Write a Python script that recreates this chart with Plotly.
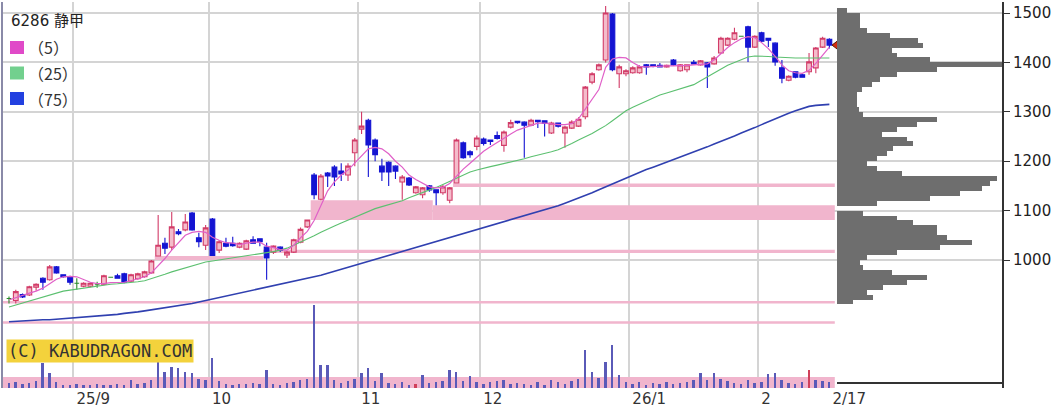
import plotly.graph_objects as go

title_text = "6286 静甲"

# daily OHLC, index 0 = 2025-08-18 ... index 121 = 2026-02-17
opens = [922, 918, 930, 929, 945, 963, 960, 986, 970, 966,
         953, 947, 947, 950, 951, 965, 968, 972, 957, 962,
         966, 974, 1008, 1034, 1026, 1057, 1061, 1095, 1045, 1030,
         1083, 1020, 1034, 1034, 1026, 1022, 1041, 1043, 1026, 1016,
         1026, 1010, 1016, 1036, 1067, 1172, 1123, 1176, 1188, 1180,
         1172, 1217, 1265, 1283, 1243, 1190, 1198, 1190, 1158, 1166,
         1136, 1132, 1150, 1142, 1136, 1121, 1156, 1237, 1219, 1230,
         1245, 1243, 1252, 1232, 1269, 1281, 1279, 1273, 1283, 1282,
         1257, 1277, 1257, 1267, 1271, 1290, 1360, 1385, 1405, 1498,
         1377, 1377, 1379, 1379, 1395, 1395, 1394, 1391, 1405, 1383,
         1385, 1400, 1395, 1399, 1397, 1419, 1435, 1447, 1453, 1472,
         1431, 1460, 1449, 1439, 1389, 1364, 1381, 1375, 1381, 1389,
         1431, 1447]
highs = [926, 940, 932, 948, 953, 965, 990, 988, 971, 968,
         963, 955, 955, 956, 970, 966, 972, 974, 972, 974,
         978, 1000, 1091, 1045, 1097, 1063, 1093, 1097, 1055, 1071,
         1085, 1040, 1045, 1047, 1036, 1041, 1048, 1044, 1035, 1030,
         1028, 1018, 1043, 1066, 1081, 1176, 1174, 1178, 1192, 1196,
         1196, 1247, 1300, 1286, 1246, 1205, 1200, 1192, 1172, 1168,
         1150, 1148, 1152, 1143, 1152, 1148, 1246, 1240, 1222, 1252,
         1248, 1244, 1260, 1262, 1284, 1282, 1281, 1286, 1284, 1283,
         1280, 1278, 1272, 1283, 1289, 1352, 1380, 1398, 1514, 1500,
         1395, 1386, 1392, 1394, 1397, 1396, 1399, 1396, 1407, 1397,
         1396, 1405, 1405, 1401, 1413, 1452, 1451, 1470, 1454, 1474,
         1455, 1462, 1450, 1441, 1405, 1374, 1382, 1377, 1419, 1431,
         1452, 1449]
lows = [912, 912, 923, 927, 938, 940, 958, 972, 964, 950,
        940, 945, 945, 944, 949, 964, 962, 953, 955, 960,
        964, 972, 1007, 1012, 1020, 1050, 1058, 1059, 1026, 1020,
        1008, 1014, 1026, 1027, 1024, 1020, 1033, 1028, 960, 1012,
        1016, 1004, 1014, 1034, 1065, 1123, 1121, 1148, 1150, 1160,
        1160, 1190, 1255, 1168, 1200, 1160, 1150, 1164, 1122, 1150,
        1134, 1125, 1138, 1111, 1132, 1115, 1155, 1205, 1207, 1222,
        1232, 1233, 1244, 1219, 1266, 1276, 1207, 1271, 1267, 1250,
        1255, 1268, 1227, 1265, 1269, 1285, 1356, 1383, 1400, 1382,
        1348, 1372, 1377, 1377, 1375, 1390, 1390, 1389, 1393, 1381,
        1380, 1396, 1393, 1348, 1395, 1417, 1433, 1445, 1452, 1401,
        1429, 1441, 1431, 1393, 1358, 1362, 1368, 1369, 1375, 1378,
        1429, 1428]
closes = [922, 936, 925, 946, 951, 955, 986, 974, 966, 955,
          953, 953, 953, 950, 968, 965, 963, 955, 970, 972,
          976, 998, 1030, 1024, 1067, 1053, 1077, 1061, 1037, 1065,
          1009, 1037, 1028, 1029, 1034, 1039, 1034, 1037, 1004, 1028,
          1020, 1016, 1041, 1062, 1081, 1132, 1170, 1170, 1168, 1174,
          1190, 1243, 1271, 1233, 1213, 1178, 1178, 1180, 1168, 1152,
          1148, 1146, 1142, 1136, 1148, 1146, 1243, 1207, 1213, 1247,
          1236, 1240, 1246, 1259, 1278, 1278, 1273, 1283, 1280, 1277,
          1277, 1271, 1269, 1279, 1285, 1350, 1377, 1395, 1500, 1385,
          1391, 1383, 1389, 1391, 1391, 1392, 1391, 1394, 1395, 1395,
          1395, 1397, 1403, 1391, 1409, 1449, 1449, 1460, 1453, 1431,
          1453, 1443, 1445, 1401, 1368, 1372, 1370, 1370, 1401, 1429,
          1449, 1435]

volumes = [5, 6, 4, 5, 7, 25, 15, 6, 3, 3,
           4, 3, 3, 4, 3, 3, 4, 3, 8, 4,
           5, 8, 28, 16, 21, 20, 16, 15, 9, 8,
           30, 7, 4, 3, 4, 4, 5, 4, 18, 4,
           3, 5, 6, 8, 9, 83, 23, 23, 8, 5,
           7, 9, 15, 20, 7, 15, 5, 4, 6, 3,
           4, 13, 5, 6, 7, 18, 16, 7, 12, 6,
           4, 6, 7, 8, 4, 5, 4, 3, 6, 3,
           8, 6, 4, 7, 9, 38, 16, 10, 26, 43,
           13, 6, 4, 6, 3, 5, 4, 6, 4, 5,
           6, 8, 15, 8, 15, 9, 7, 5, 4, 8,
           5, 6, 14, 15, 8, 5, 4, 6, 18, 8,
           7, 6]
vol_red_days = [60, 118]

ma5 = [919, 924, 928, 933, 937, 943, 952, 961, 966, 967,
       966, 960, 955, 952, 952, 954, 955, 955, 958, 962,
       966, 974, 988, 1003, 1020, 1036, 1050, 1056, 1058, 1056,
       1046, 1040, 1035, 1034, 1031, 1034, 1036, 1036, 1028, 1025,
       1021, 1020, 1030, 1045, 1058, 1080, 1110, 1140, 1158, 1172,
       1182, 1196, 1212, 1225, 1228, 1225, 1215, 1200, 1188, 1172,
       1163, 1155, 1148, 1146, 1147, 1155, 1170, 1184, 1196, 1208,
       1220, 1229, 1238, 1246, 1255, 1263, 1268, 1273, 1277, 1277,
       1275, 1274, 1274, 1276, 1286, 1305, 1325, 1345, 1390, 1407,
       1410, 1409, 1400, 1392, 1391, 1392, 1393, 1393, 1393, 1393,
       1394, 1395, 1396, 1397, 1405, 1418, 1430, 1440, 1448, 1452,
       1450, 1440, 1428, 1412, 1395, 1383, 1379, 1378, 1384, 1398,
       1415, 1431]
ma25 = [905, 909, 914, 918, 922, 926, 930, 934, 937, 939,
        941, 943, 946, 948, 950, 951, 952, 953, 954, 956,
        958, 962, 966, 971, 976, 980, 985, 989, 993, 996,
        998, 1000, 1002, 1004, 1006, 1009, 1011, 1013, 1014, 1017,
        1020, 1024, 1030, 1036, 1042, 1049, 1056, 1063, 1069, 1075,
        1081, 1087, 1093, 1099, 1104, 1108, 1112, 1116, 1120, 1126,
        1131, 1136, 1141, 1147, 1153, 1159, 1165, 1172, 1178, 1182,
        1186, 1189, 1192, 1195, 1198, 1202, 1205, 1209, 1212, 1216,
        1219, 1223, 1229, 1236, 1243, 1249, 1256, 1264, 1272, 1282,
        1292, 1302, 1309, 1315, 1322, 1328, 1334, 1338, 1342, 1346,
        1350, 1355, 1363, 1371, 1379, 1387, 1394, 1400, 1406, 1411,
        1413, 1413, 1412, 1411, 1410, 1410, 1409, 1409, 1409, 1409,
        1409, 1409]
ma75 = [875, 876, 876, 877, 878, 879, 879, 880, 881, 882,
        883, 884, 886, 887, 888, 889, 890, 892, 893, 895,
        897, 899, 901, 903, 906, 908, 910, 912, 915, 918,
        921, 924, 927, 930, 933, 936, 939, 942, 945, 948,
        951, 954, 957, 960, 963, 965, 969, 973, 977, 981,
        985, 989, 993, 997, 1001, 1005, 1009, 1013, 1017, 1021,
        1025, 1029, 1033, 1037, 1041, 1045, 1049, 1053, 1057, 1061,
        1065, 1069, 1073, 1077, 1081, 1085, 1089, 1093, 1098, 1102,
        1106, 1110, 1115, 1120, 1125, 1130, 1136, 1142, 1148, 1154,
        1160, 1166, 1172, 1178, 1183, 1188, 1193, 1199, 1204, 1209,
        1214, 1219, 1224, 1229, 1235, 1240, 1246, 1251, 1257, 1262,
        1268, 1274, 1280, 1285, 1291, 1297, 1302, 1307, 1311, 1313,
        1314, 1315]

# price-by-volume profile (10-yen bins)
profile_price = [915, 925, 935, 945, 955, 965, 975, 985, 995, 1005,
                 1015, 1025, 1035, 1045, 1055, 1065, 1075, 1085, 1095, 1105,
                 1115, 1125, 1135, 1145, 1155, 1165, 1175, 1185, 1195, 1205,
                 1215, 1225, 1235, 1245, 1255, 1265, 1275, 1285, 1295, 1305,
                 1315, 1325, 1335, 1345, 1355, 1365, 1375, 1385, 1395, 1405,
                 1415, 1425, 1435, 1445, 1455, 1465, 1475, 1485, 1495, 1505]
profile_volume = [16, 36, 30, 46, 70, 90, 55, 26, 23, 30,
                  60, 103, 135, 110, 100, 100, 76, 60, 26, 0,
                  40, 93, 123, 145, 153, 160, 65, 40, 30, 40,
                  50, 56, 76, 70, 45, 60, 80, 100, 26, 22,
                  20, 20, 20, 25, 35, 43, 60, 100, 166, 93,
                  60, 55, 86, 81, 53, 30, 23, 23, 23, 10]

# open price gaps (windows): low, high, first day, day filled (None = before chart / still open)
gap_lo = [871, 912, 1000, 1014, 1081, 1081, 1148]
gap_hi = [876, 917, 1008, 1021, 1121, 1111, 1155]
gap_from = [None, None, 22, 38, 45, 63, 66]
gap_to = [None, None, 38, None, 63, None, None]

month_start_idx = [10, 30, 52, 70, 92, 111]
month_labels = ["25/9", "10", "11", "12", "26/1", "2"]
last_label = "2/17"

ma_names = ["（5）", "（25）", "（75）"]
ma_colors = ["#e04ac8", "#72d08e", "#2240e0"]

n = len(closes)
idx = list(range(n))

# ---------- layout geometry ----------
W, H = 1052, 407
ml, mr, mt, mb = 2, 50, 2, 19
plot_w = W - ml - mr
plot_h = H - mt - mb
px_day = 6.78
first_px = 9
x_lo = -(first_px - ml) / px_day
x_hi = x_lo + plot_w / px_day
x_end = n - 0.2
ppy = 0.494          # px per yen
p_hi = 1500 + (13 - mt) / ppy
p_lo = p_hi - plot_h / ppy


def px_x(p):
    return (p - ml) / plot_w


def px_y(p):
    return (H - mb - p) / plot_h


fig = go.Figure()

# candles split by direction
up = [i for i in idx if closes[i] > opens[i]]
dn = [i for i in idx if closes[i] < opens[i]]
dj = [i for i in idx if closes[i] == opens[i]]


def sub(arr, ii):
    return [arr[i] for i in ii]


for ii, lc, fc in [(up, "#d23c68", "#f4bccb"), (dn, "#1414d2", "#1414d2"), (dj, "#2a8a2a", "#2a8a2a")]:
    fig.add_trace(go.Candlestick(
        x=ii, open=sub(opens, ii), high=sub(highs, ii), low=sub(lows, ii), close=sub(closes, ii),
        increasing=dict(line=dict(color=lc, width=1.1), fillcolor=fc),
        decreasing=dict(line=dict(color=lc, width=1.1), fillcolor=fc),
        showlegend=False, hoverinfo="skip", xaxis="x", yaxis="y"))

# moving averages
fig.add_trace(go.Scatter(x=idx, y=ma75, mode="lines", line=dict(color="#3040b0", width=1.6),
                         showlegend=False, hoverinfo="skip"))
fig.add_trace(go.Scatter(x=idx, y=ma25, mode="lines", line=dict(color="#5cc070", width=1.1),
                         showlegend=False, hoverinfo="skip"))
fig.add_trace(go.Scatter(x=idx, y=ma5, mode="lines", line=dict(color="#e060c8", width=1.2),
                         showlegend=False, hoverinfo="skip"))

# volume
vcol = ["#d0405a" if i in vol_red_days else "#5a5ab8" for i in idx]
fig.add_trace(go.Bar(x=idx, y=volumes, width=0.28, marker=dict(color=vcol, line=dict(width=0)),
                     xaxis="x", yaxis="y3", showlegend=False, hoverinfo="skip"))

# price-by-volume profile
fig.add_trace(go.Bar(y=profile_price, x=profile_volume, orientation="h", width=10,
                     marker=dict(color="#6e6e6e", line=dict(width=0)),
                     xaxis="x2", yaxis="y", showlegend=False, hoverinfo="skip"))

# last price marker
fig.add_trace(go.Scatter(x=[n - 1 + 1.2], y=[closes[-1]], mode="markers",
                         marker=dict(symbol="triangle-left", size=11, color="#d42a10",
                                     line=dict(color="#5a1a00", width=1)),
                         showlegend=False, hoverinfo="skip", xaxis="x3", yaxis="y"))

shapes = []
# gap windows
for lo, hi, f, t in zip(gap_lo, gap_hi, gap_from, gap_to):
    shapes.append(dict(type="rect", xref="x", yref="y",
                       x0=(x_lo if f is None else f - 0.5), x1=(x_end if t is None else t - 0.5),
                       y0=lo, y1=hi, fillcolor="#f1b5cd", line=dict(width=0), layer="between"))
# volume panel band
shapes.append(dict(type="rect", xref="x", yref="y3", x0=x_lo, x1=x_end, y0=0, y1=11,
                   fillcolor="#f1b5cd", line=dict(width=0), layer="between"))
# left frame line
shapes.append(dict(type="line", xref="paper", yref="paper", x0=0, x1=0, y0=0, y1=1,
                   line=dict(color="#8a8aa8", width=2)))

annotations = [dict(text=title_text, xref="paper", yref="paper", x=px_x(9), y=px_y(21),
                    xanchor="left", yanchor="middle", showarrow=False,
                    font=dict(family="DejaVu Sans, Noto Sans CJK JP", size=15, color="#222"))]
# legend keys
for k, (nm, col) in enumerate(zip(ma_names, ma_colors)):
    yc = 47.5 + 25.5 * k
    shapes.append(dict(type="rect", xref="paper", yref="paper",
                       x0=px_x(10), x1=px_x(24), y0=px_y(yc + 6.5), y1=px_y(yc - 6.5),
                       fillcolor=col, line=dict(width=0), layer="above"))
    annotations.append(dict(text=nm, xref="paper", yref="paper", x=px_x(26), y=px_y(yc),
                            xanchor="left", yanchor="middle", showarrow=False,
                            font=dict(family="Noto Sans CJK JP", size=16, color="#333")))

annotations.append(dict(text="(C) KABUDRAGON.COM", xref="paper", yref="paper",
                        x=px_x(6), y=px_y(351), xanchor="left", yanchor="middle",
                        showarrow=False, bgcolor="#f3d23c", borderpad=1,
                        font=dict(family="DejaVu Sans Mono", size=17, color="#333")))

grid_x = [m - 0.5 for m in month_start_idx]

fig.update_layout(
    width=W, height=H,
    margin=dict(l=ml, r=mr, t=mt, b=mb, autoexpand=False),
    paper_bgcolor="white", plot_bgcolor="rgba(0,0,0,0)",
    boxgap=0.3, boxgroupgap=0, bargap=0,
    showlegend=False,
    shapes=shapes, annotations=annotations,
    xaxis=dict(domain=[0, 1], range=[x_lo, x_hi], showgrid=False, zeroline=False,
               tickvals=grid_x + [n - 1], ticktext=month_labels + [last_label],
               ticklabelposition="outside right", ticks="", ticklabelshift=3,
               tickfont=dict(family="DejaVu Sans", size=15, color="#333"),
               rangeslider=dict(visible=False), fixedrange=True),
    xaxis3=dict(overlaying="x", anchor="y", range=[x_lo, x_hi], tickvals=grid_x,
                showgrid=True, gridcolor="#d4d4d4", gridwidth=1.5, showticklabels=False,
                ticks="", zeroline=False, showline=False),
    xaxis2=dict(domain=[px_x(837), 1], range=[0, 165], anchor="free",
                position=(5 / plot_h), showgrid=False, zeroline=False, showticklabels=False,
                ticks="", showline=True, linecolor="#333", linewidth=2),
    yaxis=dict(domain=[0, 1], range=[p_lo, p_hi], side="right", anchor="x",
               tickvals=[1000, 1100, 1200, 1300, 1400, 1500], ticks="outside", ticklen=6,
               tickcolor="#333", showline=True, linecolor="#333", linewidth=2,
               gridcolor="#d4d4d4", gridwidth=1.5, zeroline=False,
               tickfont=dict(family="DejaVu Sans", size=15, color="#222")),
    yaxis3=dict(domain=[0, 0.3], range=[0, 0.3 * plot_h], anchor="x", visible=False),
)

# remove the browser's default page margin so the figure sits at the window's corner
fig.write_html("out.html", config={"displayModeBar": False},
               post_script="document.body.style.margin='0';document.body.style.overflow='hidden';")
